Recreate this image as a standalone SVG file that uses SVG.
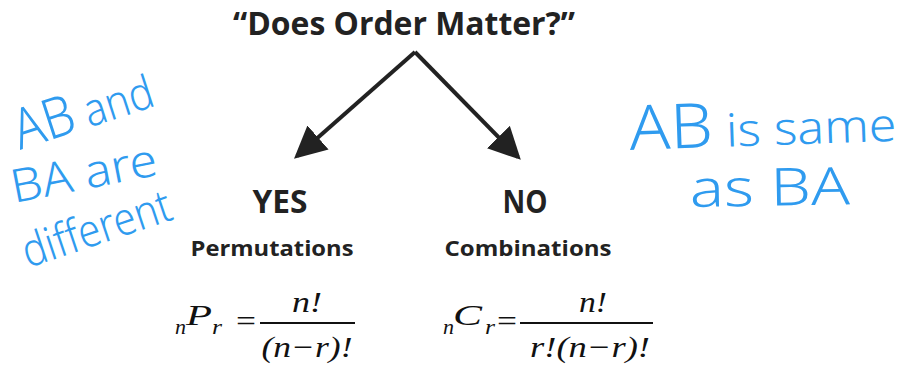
<svg xmlns="http://www.w3.org/2000/svg" width="903" height="366" viewBox="0 0 903 366">
<style>
.h{font-family:"Open Sans","Liberation Sans",sans-serif;font-weight:bold;fill:#222}
.m{font-family:"Liberation Serif","DejaVu Serif",serif;font-style:italic;fill:#111}
.mu{font-family:"Liberation Serif","DejaVu Serif",serif;fill:#111}
.hw{font-family:"Noto Sans","Liberation Sans",sans-serif;font-weight:300;fill:#2f9bef}
.conn{stroke:#222;stroke-width:4;fill:none}
</style>
<defs>
<marker id="ah" markerWidth="8" markerHeight="8" refX="7" refY="4" orient="auto" markerUnits="strokeWidth">
<path d="M0,0 L8,4 L0,8 Z" fill="#222"/>
</marker>
</defs>
<rect width="903" height="366" fill="#fff"/>
<g id="question">
<text class="h" x="404" y="35" font-size="32" text-anchor="middle" textLength="342" lengthAdjust="spacingAndGlyphs">“Does Order Matter?”</text>
</g>
<g id="connectors">
<path class="conn" d="M415,52 L297,156" marker-end="url(#ah)"/>
<path class="conn" d="M415,52 L518,157" marker-end="url(#ah)"/>
</g>
<g id="yes">
<text class="h" x="280" y="213" font-size="33" text-anchor="middle" textLength="55" lengthAdjust="spacingAndGlyphs">YES</text>
<text class="h" x="272" y="256" font-size="21" text-anchor="middle" textLength="163" lengthAdjust="spacingAndGlyphs">Permutations</text>
<text class="m" x="175" y="334" font-size="22" textLength="11" lengthAdjust="spacingAndGlyphs">n</text>
<text class="m" x="186" y="325" font-size="30" textLength="26" lengthAdjust="spacingAndGlyphs">P</text>
<text class="m" x="212" y="334" font-size="22" textLength="10" lengthAdjust="spacingAndGlyphs">r</text>
<text class="mu" x="246" y="331" font-size="30" text-anchor="middle" textLength="20" lengthAdjust="spacingAndGlyphs">=</text>
<line x1="260" y1="323" x2="355" y2="323" stroke="#111" stroke-width="2"/>
<text class="m" x="307" y="312" font-size="30" text-anchor="middle" textLength="30" lengthAdjust="spacingAndGlyphs">n!</text>
<text class="m" x="307" y="357" font-size="30" text-anchor="middle" textLength="91" lengthAdjust="spacingAndGlyphs">(n−r)!</text>
</g>
<g id="no">
<text class="h" x="525" y="213" font-size="33" text-anchor="middle" textLength="45" lengthAdjust="spacingAndGlyphs">NO</text>
<text class="h" x="528" y="256" font-size="21" text-anchor="middle" textLength="167" lengthAdjust="spacingAndGlyphs">Combinations</text>
<text class="m" x="443" y="334" font-size="22" textLength="11" lengthAdjust="spacingAndGlyphs">n</text>
<text class="m" x="453" y="325" font-size="30" textLength="29" lengthAdjust="spacingAndGlyphs">C</text>
<text class="m" x="485" y="334" font-size="22" textLength="10" lengthAdjust="spacingAndGlyphs">r</text>
<text class="mu" x="507" y="331" font-size="30" text-anchor="middle" textLength="20" lengthAdjust="spacingAndGlyphs">=</text>
<line x1="520" y1="323" x2="653" y2="323" stroke="#111" stroke-width="2"/>
<text class="m" x="593" y="312" font-size="30" text-anchor="middle" textLength="28" lengthAdjust="spacingAndGlyphs">n!</text>
<text class="m" x="590" y="357" font-size="30" text-anchor="middle" textLength="120" lengthAdjust="spacingAndGlyphs">r!(n−r)!</text>
</g>
<g id="note-left">
<text class="hw" transform="translate(20,150) rotate(-18)" font-size="46" textLength="144" lengthAdjust="spacingAndGlyphs"><tspan font-size="56">AB</tspan> and</text>
<text class="hw" transform="translate(14,203) rotate(-11)" font-size="46" textLength="148" lengthAdjust="spacingAndGlyphs">BA are</text>
<text class="hw" transform="translate(28,268) rotate(-18.5)" font-size="46" textLength="155" lengthAdjust="spacingAndGlyphs">different</text>
</g>
<g id="note-right">
<text class="hw" transform="translate(630,150) rotate(-2)" font-size="46" textLength="267" lengthAdjust="spacingAndGlyphs"><tspan font-size="62">AB</tspan> is same</text>
<text class="hw" transform="translate(690,207) rotate(-1)" font-size="52" textLength="160" lengthAdjust="spacingAndGlyphs">as BA</text>
</g>
</svg>
